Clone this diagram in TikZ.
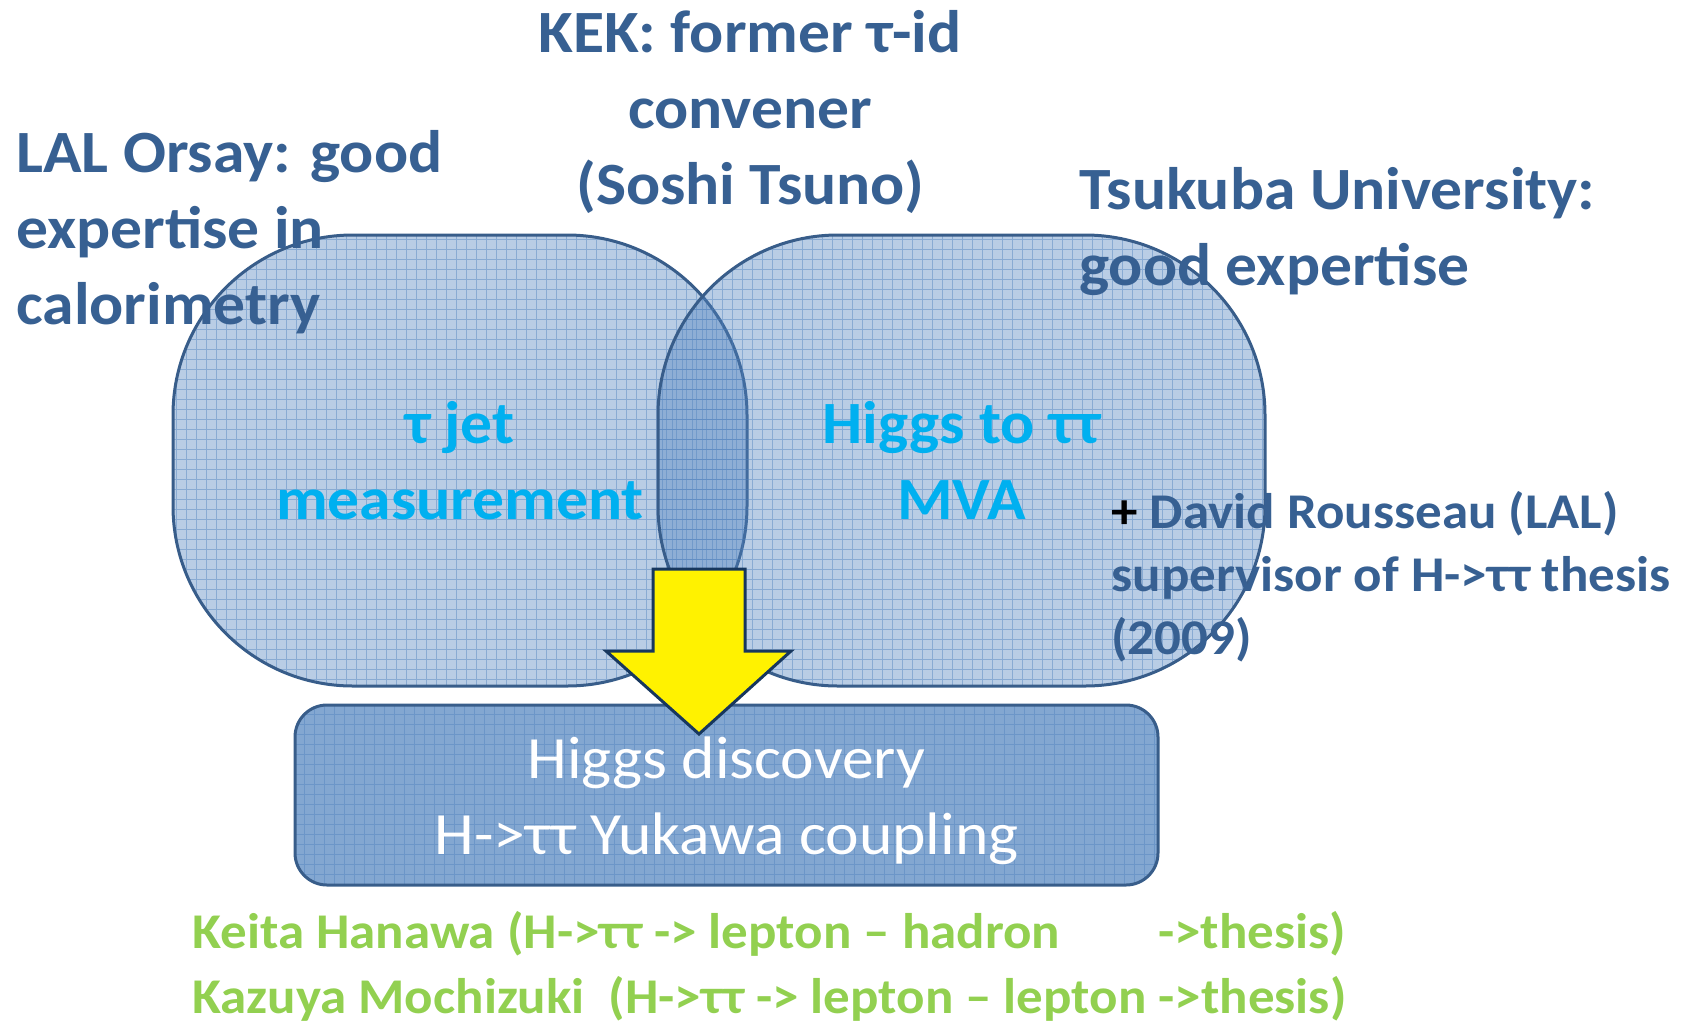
\documentclass[tikz,border=0pt]{standalone}
\usepackage{fontspec}
\setmainfont[FakeStretch=1.06]{Carlito}
\usepackage{xcolor}
\usepackage{tikz}
\usetikzlibrary{positioning}

\definecolor{titleblue}{HTML}{376092}
\definecolor{boxblue}{HTML}{4F81BD}
\definecolor{edgeblue}{HTML}{385D8A}
\definecolor{skyblue}{HTML}{00B0F0}
\definecolor{leafgreen}{HTML}{92D050}
\definecolor{arrownavy}{HTML}{17375E}

\tikzset{
  gridded/.style={path picture={\draw[boxblue,opacity=0.45,line width=0.5pt,step=5pt]
      (path picture bounding box.south west) grid (path picture bounding box.north east);}},
  venn/.style={draw=edgeblue,line width=1.5pt,fill=boxblue,fill opacity=0.4,text opacity=1,
      rounded corners=90pt,minimum width=#1,minimum height=225.5pt,gridded,
      text=skyblue,align=center,font=\fontsize{30}{38}\selectfont\bfseries},
  result/.style={draw=edgeblue,line width=1.5pt,fill=boxblue,fill opacity=0.7,text opacity=1,
      rounded corners=16pt,minimum width=431.5pt,minimum height=90pt,gridded,
      text=white,align=center,font=\fontsize{30}{38}\selectfont},
  note/.style={text=titleblue,inner sep=0pt,align=left,font=\fontsize{30}{38}\selectfont\bfseries},
  smallnote/.style={note,font=\fontsize{25}{31.5}\selectfont\bfseries},
  student/.style={text=leafgreen,inner sep=0pt,font=\fontsize{25}{32}\selectfont\bfseries}
}

\begin{document}
\begin{tikzpicture}[x=0.5pt,y=-0.5pt]
  \useasboundingbox (0,0) rectangle (1692,1024);

  \node[venn=287pt] (tau) at (460,460.5) {τ jet\\measurement};
  \node[venn=303.5pt] (mva) at (961.5,460.5) {Higgs to ττ\\MVA};
  \node[result] (higgs) at (726.5,795) {\rule{0pt}{27pt}Higgs discovery\\H->ττ Yukawa coupling};

  \draw[arrownavy,line width=1.5pt,fill=yellow,line join=miter]
    (653,569) -- (745,569) -- (745,651) -- (791,651) -- (699,734) -- (606,651) -- (653,651) -- cycle;

  \node[note,anchor=west] (lal) at (16,232) {LAL Orsay: good\\expertise in\\calorimetry};
  \node[note,align=center] (kek) at (750,112) {KEK: former τ-id\\convener\\(Soshi Tsuno)};
  \node[note,anchor=west] (tsukuba) at (1079,232) {Tsukuba University:\\good expertise};
  \node[smallnote,anchor=west] (david) at (1111,577)
    {{\color{black}+} David Rousseau (LAL)\\supervisor of H->ττ thesis\\(2009)};

  \node[student,anchor=base west] (kazuya) at (192,1013) {Kazuya Mochizuki~~(H->ττ -> lepton – lepton ->thesis)};
  \node[student,anchor=base west] (keita) at (192,948) {Keita Hanawa (H->ττ -> lepton – hadron};
  \node[student,anchor=base east] (keitathesis) at (kazuya.base east |- keita.base) {->thesis)};
\end{tikzpicture}
\end{document}
